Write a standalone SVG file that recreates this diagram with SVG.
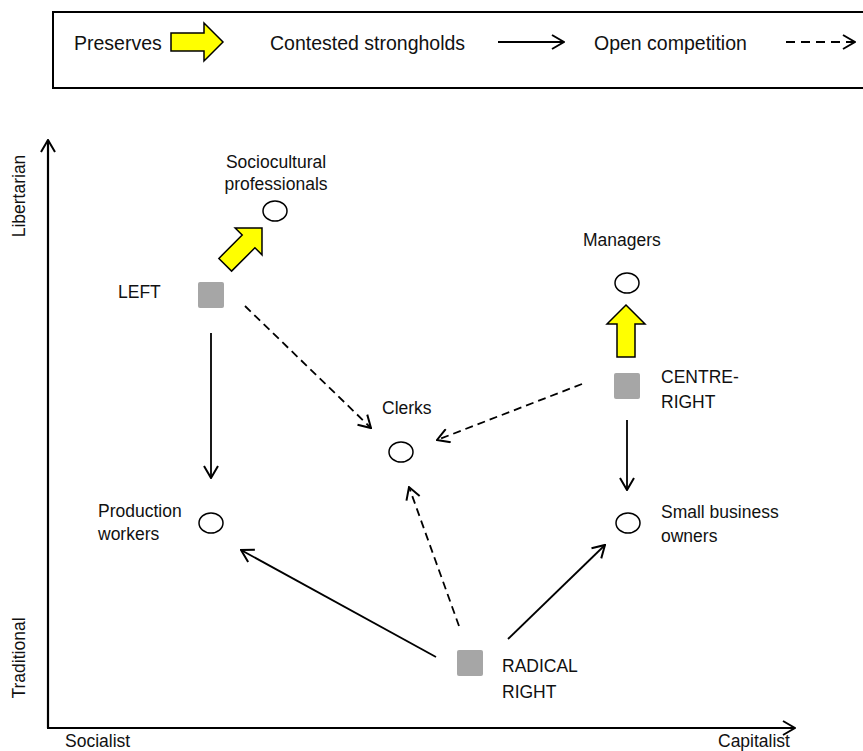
<svg xmlns="http://www.w3.org/2000/svg" width="863" height="751" viewBox="0 0 863 751">
<style>
text{font-family:"Liberation Sans",Arial,sans-serif;font-size:17.5px;fill:#111}
.lg{font-size:19.5px}
.ln{stroke:#000;stroke-width:1.8;fill:none}
.ds{stroke-dasharray:8 5}
.ax{stroke:#000;stroke-width:2.2;fill:none}
.cl{fill:#fff;stroke:#000;stroke-width:1.5}
.sq{fill:#a6a6a6}
.ya{fill:#ffff00;stroke:#000;stroke-width:1.5;stroke-linejoin:miter}
</style>
<defs>
<marker id="ah" markerUnits="userSpaceOnUse" viewBox="0 0 14 16" refX="13" refY="8" markerWidth="14" markerHeight="16" orient="auto">
<path d="M1,1 L13,8 L1,15" fill="none" stroke="#000" stroke-width="2"/>
</marker>
<path id="yarrow" d="M0,0 L19,19 L9,19 L9,52 L-9,52 L-9,19 L-19,19 Z"/>
</defs>

<g id="legend">
<path d="M863,12 H53 V88 H863" fill="none" stroke="#000" stroke-width="2"/>
<text class="lg" x="74" y="50">Preserves</text>
<use href="#yarrow" class="ya" transform="translate(223,42) rotate(90)"/>
<text class="lg" x="270" y="50">Contested strongholds</text>
<path class="ln" d="M498,42 H564" marker-end="url(#ah)"/>
<text class="lg" x="594" y="50">Open competition</text>
<path class="ln" d="M786,42 H855" stroke-dasharray="9 6" marker-end="url(#ah)"/>
</g>

<g id="axes">
<path class="ax" d="M48,728 V140" marker-end="url(#ah)"/>
<path class="ax" d="M47,728 H795" marker-end="url(#ah)"/>
<text transform="translate(25,196) rotate(-90)" text-anchor="middle">Libertarian</text>
<text transform="translate(25,658) rotate(-90)" text-anchor="middle">Traditional</text>
<text x="65" y="747">Socialist</text>
<text x="718" y="747">Capitalist</text>
</g>

<g id="connectors">
<path class="ln" d="M211,333 V478" marker-end="url(#ah)"/>
<path class="ln ds" d="M245,306 L371,428" marker-end="url(#ah)"/>
<path class="ln ds" d="M582,384 L437,440" marker-end="url(#ah)"/>
<path class="ln" d="M627,420 V490" marker-end="url(#ah)"/>
<path class="ln" d="M436,657 L241,550" marker-end="url(#ah)"/>
<path class="ln ds" d="M459,626 L409,487" marker-end="url(#ah)"/>
<path class="ln" d="M508,639 L605,545" marker-end="url(#ah)"/>
<use href="#yarrow" class="ya" transform="translate(262,228) rotate(45)"/>
<use href="#yarrow" class="ya" transform="translate(626,305)"/>
</g>

<g id="sociocultural">
<text x="276" y="168" text-anchor="middle">Sociocultural</text>
<text x="276" y="190" text-anchor="middle">professionals</text>
<ellipse class="cl" cx="275" cy="211" rx="12" ry="10"/>
</g>
<g id="managers">
<text x="583" y="246">Managers</text>
<ellipse class="cl" cx="627" cy="283" rx="12" ry="10"/>
</g>
<g id="left">
<text x="118" y="298">LEFT</text>
<rect class="sq" x="198" y="282" width="26" height="26" rx="2"/>
</g>
<g id="centre-right">
<rect class="sq" x="614" y="373" width="26" height="26" rx="2"/>
<text x="661" y="383">CENTRE-</text>
<text x="661" y="408">RIGHT</text>
</g>
<g id="clerks">
<text x="382" y="414">Clerks</text>
<ellipse class="cl" cx="401" cy="452" rx="12" ry="10"/>
</g>
<g id="production">
<text x="98" y="517">Production</text>
<text x="98" y="540">workers</text>
<ellipse class="cl" cx="211" cy="523" rx="12" ry="10"/>
</g>
<g id="smallbusiness">
<ellipse class="cl" cx="628" cy="523" rx="12" ry="10"/>
<text x="661" y="518">Small business</text>
<text x="661" y="542">owners</text>
</g>
<g id="radical-right">
<rect class="sq" x="457" y="650" width="26" height="26" rx="2"/>
<text x="502" y="672">RADICAL</text>
<text x="502" y="698">RIGHT</text>
</g>
</svg>
